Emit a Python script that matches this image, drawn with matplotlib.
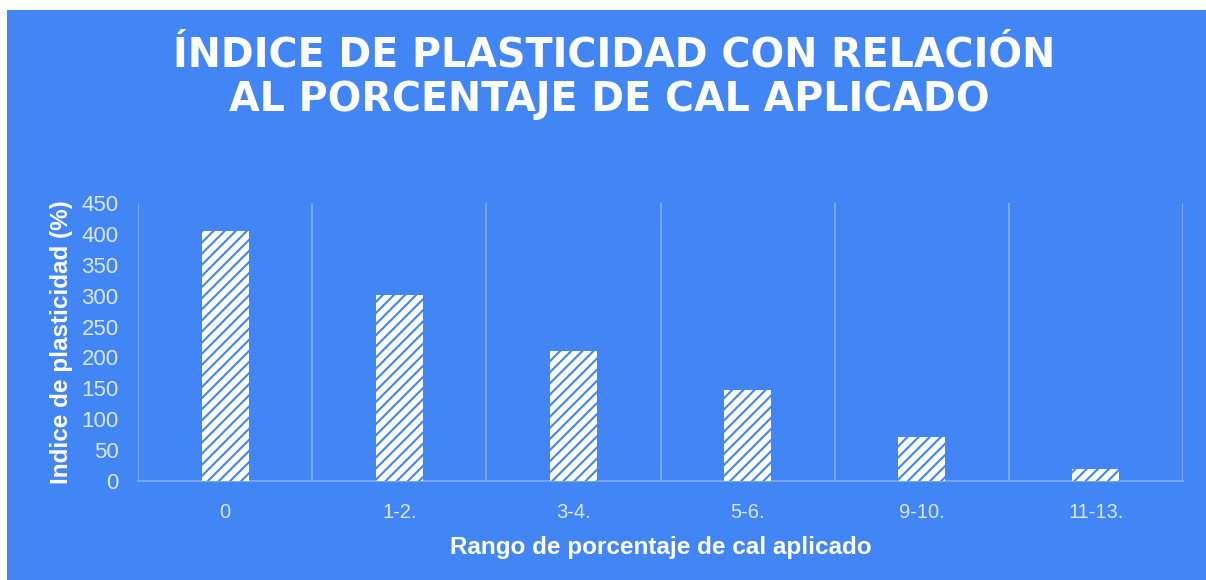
import numpy as np
import matplotlib
matplotlib.use("Agg")
import matplotlib.pyplot as plt
from matplotlib.patches import Rectangle

# data
categories = ["0", "1-2.", "3-4.", "5-6.", "9-10.", "11-13."]
plasticity = [404, 301, 210, 148, 71, 19]
yticks = [0, 50, 100, 150, 200, 250, 300, 350, 400, 450]

bg = "#4285F4"
grid_col = "#7DA9F6"
tick_col = "#DCE8FC"

plt.rcParams['font.family'] = ['Liberation Sans', 'DejaVu Sans']
plt.rcParams['hatch.linewidth'] = 1.5
plt.rcParams['hatch.color'] = bg

fig = plt.figure(figsize=(12.06, 5.80), dpi=100, facecolor="white")
# blue card with white margin at top/left
fig.patches.append(Rectangle((7 / 1206, 0), 1 - 7 / 1206, 570 / 580,
                             transform=fig.transFigure, facecolor=bg,
                             edgecolor="none", zorder=-10))

ax = fig.add_axes([138 / 1206, 99 / 580, (1183 - 138) / 1206, 278 / 580])
ax.set_facecolor("none")
ax.set_zorder(5)

x = np.arange(len(categories))
ax.bar(x, plasticity, width=0.27, color="white", edgecolor=bg,
       linewidth=0, hatch="///", zorder=3)

ax.set_xlim(-0.5, len(categories) - 0.5)
ax.set_ylim(0, 450)
ax.set_yticks(yticks)
ax.set_xticks(x)
ax.set_xticklabels(categories)

# vertical separators between categories
for b in np.arange(-0.5, len(categories), 1.0):
    ax.axvline(b, color=grid_col, lw=1.3, zorder=1)

for s in ["top", "right", "left"]:
    ax.spines[s].set_visible(False)
ax.spines["bottom"].set_color(grid_col)
ax.spines["bottom"].set_linewidth(1.3)

ax.tick_params(axis="both", length=0, colors=tick_col)
ax.tick_params(axis="x", pad=16, labelsize=14.5)
ax.tick_params(axis="y", pad=14, labelsize=16)

ax.set_xlabel("Rango de porcentaje de cal aplicado", color="white",
              fontsize=17.5, fontweight="bold", labelpad=10)
ax.set_ylabel("Indice de plasticidad (%)", color="white",
              fontsize=17.5, fontweight="bold", labelpad=6)

fig.text(0.509, 0.905, "ÍNDICE DE PLASTICIDAD CON RELACIÓN",
         ha="center", va="center", color="white", fontsize=28.5,
         fontweight="bold", family="DejaVu Sans")
fig.text(0.505, 0.828, "AL PORCENTAJE DE CAL APLICADO",
         ha="center", va="center", color="white", fontsize=28.5,
         fontweight="bold", family="DejaVu Sans")

fig.savefig("out.png", dpi=100, facecolor="white")
